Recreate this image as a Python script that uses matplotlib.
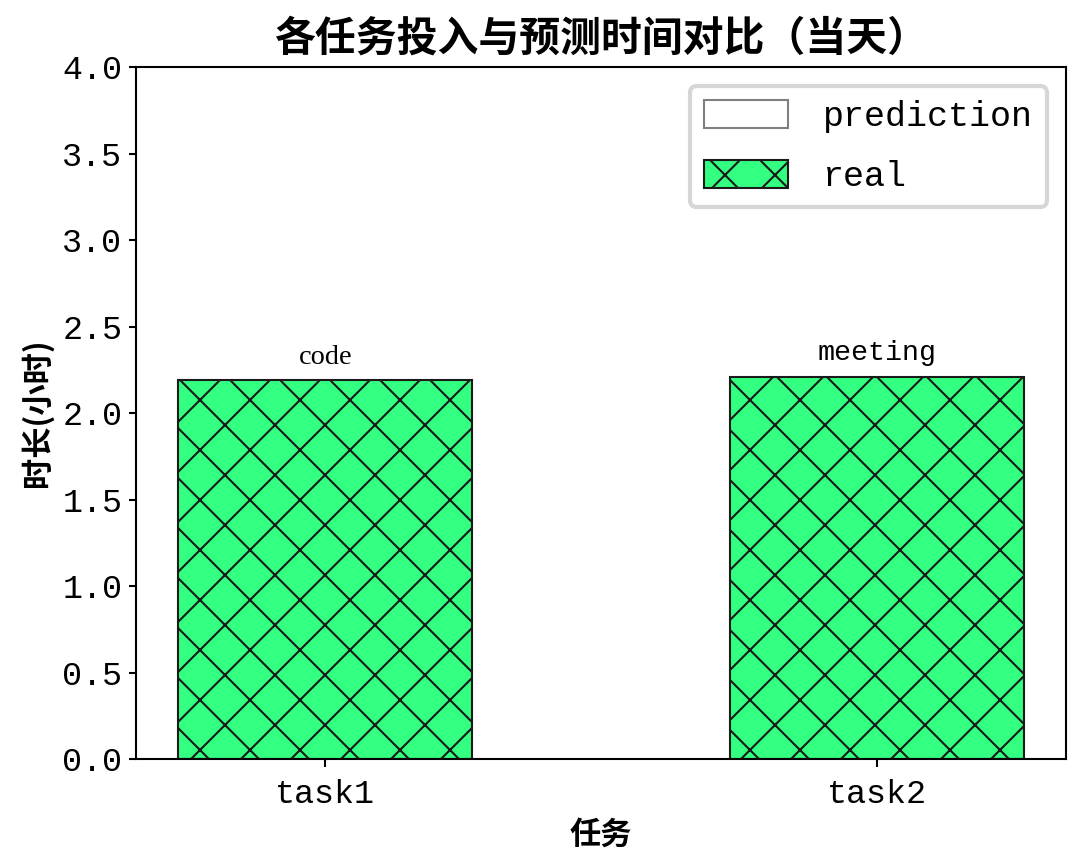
import matplotlib
matplotlib.use('Agg')
import numpy as np
from matplotlib import pyplot as plt

tasks = ['task1', 'task2']
task_names = ['code', 'meeting']
prediction = [0.0, 0.0]
real = [2.19, 2.21]

plt.rcParams['font.family'] = ['Liberation Mono', 'Noto Sans CJK SC']
plt.rcParams['hatch.linewidth'] = 0.5
plt.rcParams['axes.linewidth'] = 0.5

fig = plt.figure(figsize=(1082 / 300, 865 / 300), dpi=300)
ax = fig.add_axes([0.1257, 0.1225, 0.8595, 0.80])

x = np.arange(len(tasks))
width = 0.533

ax.bar(x, prediction, width, color='white', edgecolor='#808080', linewidth=0.5, label='prediction')
bars = ax.bar(x, real, width, color='#33ff80', edgecolor='#1a1a1a', linewidth=0.5,
              hatch='xx', label='real')

# task name above each bar
for i, b in enumerate(bars):
    fam = 'Liberation Serif' if task_names[i] == 'code' else 'Liberation Mono'
    ax.annotate(task_names[i], (b.get_x() + b.get_width() / 2, b.get_height()),
                xytext=(0, 2.5), textcoords='offset points', ha='center', va='bottom',
                fontsize=6.8, family=fam)

ax.set_xticks(x)
ax.set_xticklabels(tasks)
ax.set_ylim(0, 4.0)
ax.set_yticks(np.arange(0, 4.01, 0.5))
ax.tick_params(labelsize=8, length=1.8, width=0.5)
ax.tick_params(axis='x', pad=3)
ax.tick_params(axis='y', pad=1.5)

ax.set_title('各任务投入与预测时间对比（当天）', fontsize=9.8, fontweight='bold',
             family='Noto Sans CJK SC', pad=4)
ax.set_xlabel('任务', fontsize=7.5, fontweight='bold', family='Noto Sans CJK SC', labelpad=2)
ax.set_ylabel('时长(小时)', fontsize=7.5, fontweight='bold', family='Noto Sans CJK SC', labelpad=2)

ax.legend(loc='upper right', fontsize=8.4, handlelength=2.4, handleheight=0.85,
          handletextpad=1.0, labelspacing=0.75, borderaxespad=0.55, framealpha=0.8)

fig.savefig('out.png', dpi=300)
